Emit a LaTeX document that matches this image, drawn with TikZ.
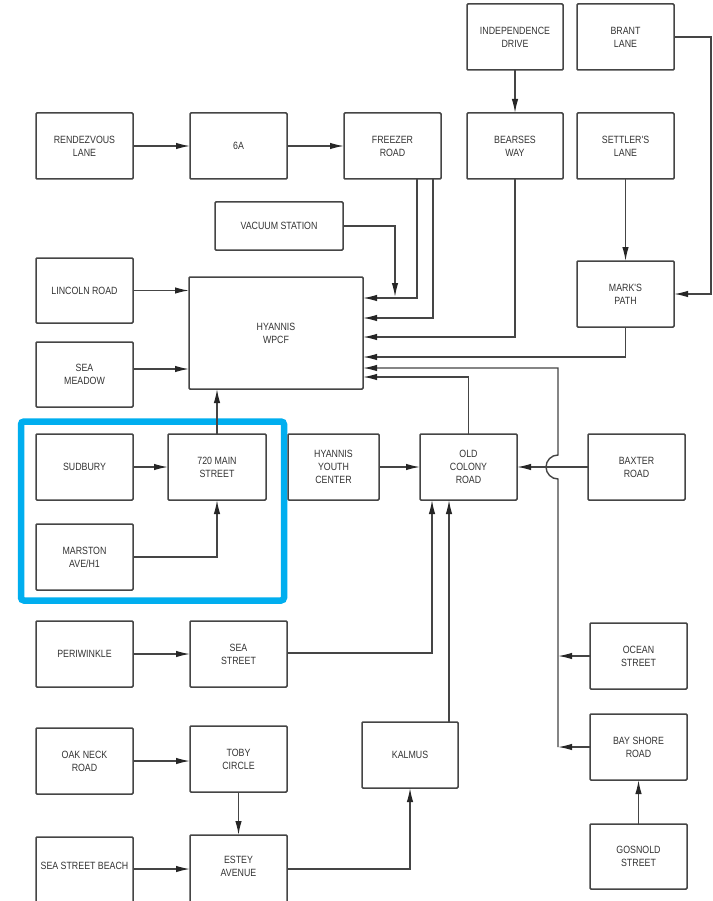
\documentclass[tikz,border=0pt]{standalone}
\usepackage{fontspec}
\newfontfamily\labfont[FakeStretch=0.84]{Liberation Sans}
\usetikzlibrary{arrows.meta}
\definecolor{ink}{HTML}{333333}
\definecolor{edge}{HTML}{454545}
\definecolor{hl}{HTML}{00AEEF}
\newcommand\bx[6]{\node[box,minimum width={(#4-#2)*1pt},minimum height={(#5-#3)*1pt}] (#1) at ({(#2+#4)/2},{-(#3+#5)/2}) {#6};}
\begin{document}
\begin{tikzpicture}[x=1pt,y=1pt,
  box/.style={draw=edge, line width=1.5pt, rounded corners=1pt, inner sep=0pt, outer sep=0pt,
    align=center, text=ink, font=\labfont\fontsize{10.5}{13}\selectfont},
  arr/.style={draw=edge, line width=1.4pt, -{Latex[length=14pt,width=6.5pt,color=black!85]}},
  ln/.style={draw=edge, line width=1.4pt}]
\useasboundingbox (0,0) rectangle (712,-901);
\clip (0,0) rectangle (712,-901);
\fill[white] (0,0) rectangle (712,-901);

% highlight frame
\draw[hl, line width=6.5pt, rounded corners=3pt] (21,-421.5) rectangle (284,-600.5);

% boxes
\bx{ind}{467}{4}{563}{70}{INDEPENDENCE\\DRIVE}
\bx{brant}{577}{4}{674}{70}{BRANT\\LANE}
\bx{rend}{36}{113}{133}{179}{RENDEZVOUS\\LANE}
\bx{sixa}{190}{113}{287}{179}{6A}
\bx{freezer}{344}{113}{441}{179}{FREEZER\\ROAD}
\bx{bearses}{467}{113}{563}{179}{BEARSES\\WAY}
\bx{settler}{577}{113}{674}{179}{SETTLER'S\\LANE}
\bx{vac}{215}{202}{343}{250}{VACUUM STATION}
\bx{lincoln}{36}{258}{133}{323}{LINCOLN ROAD}
\bx{wpcf}{189}{277}{363}{389}{HYANNIS\\WPCF}
\bx{marks}{577}{261}{674}{327}{MARK'S\\PATH}
\bx{seam}{36}{342}{133}{407}{SEA\\MEADOW}
\bx{sudbury}{36}{434}{133}{500}{SUDBURY}
\bx{main}{168}{434}{266}{500}{720 MAIN\\STREET}
\bx{marston}{36}{524}{133}{590}{MARSTON\\AVE/H1}
\bx{hyc}{288}{434}{379}{500}{HYANNIS\\YOUTH\\CENTER}
\bx{oldcol}{420}{434}{517}{500}{OLD\\COLONY\\ROAD}
\bx{baxter}{588}{434}{685}{500}{BAXTER\\ROAD}
\bx{peri}{36}{621}{133}{687}{PERIWINKLE}
\bx{seast}{190}{621}{287}{687}{SEA\\STREET}
\bx{ocean}{590}{623}{687}{689}{OCEAN\\STREET}
\bx{oak}{36}{728}{133}{794}{OAK NECK\\ROAD}
\bx{toby}{190}{726}{287}{792}{TOBY\\CIRCLE}
\bx{kalmus}{362}{722}{458}{788}{KALMUS}
\bx{bay}{590}{714}{687}{780}{BAY SHORE\\ROAD}
\bx{gosnold}{590}{824}{687}{889}{GOSNOLD\\STREET}
\node[box,minimum width=97pt,minimum height=68pt] (ssb) at (84.5,-871) {};
\node[box,minimum width=97pt,minimum height=70pt] (estey) at (238.5,-870) {};
\node[text=ink, font=\labfont\fontsize{10.5}{13}\selectfont] (ssbt) at (84.5,-866) {SEA STREET BEACH};
\node[text=ink, align=center, font=\labfont\fontsize{10.5}{13}\selectfont] (esteyt) at (238.5,-866) {ESTEY\\AVENUE};

% top connectors
\draw[arr] (rend) -- (sixa);
\draw[arr] (sixa) -- (freezer);
\draw[arr] (ind) -- (bearses);
\coordinate (bc) at (711,-294);
\draw[arr] (brant.east) -| (bc) -- (marks.east |- bc);
\draw[arr] (settler) -- (marks);
\draw[arr] (vac.east) -| (395,-297);
\draw[arr] (freezer.south -| 417,0) |- (wpcf.east |- 0,-298);
\draw[arr] (freezer.south -| 433,0) |- (wpcf.east |- 0,-318);
\draw[arr] (bearses.south) |- (wpcf.east |- 0,-337);
\draw[arr] (marks.south) |- (wpcf.east |- 0,-357);
\coordinate (busb) at (558,-747);
\coordinate (busj) at (558,-479);
\draw[arr] (busb) -- (busj) arc[start angle=270, end angle=90, radius=12pt] -- (558,-368) -- (wpcf.east |- 0,-368);
\draw[arr] (bay.west) -- (busb);
\draw[arr] (ocean.west) -- (ocean.west -| busb);
\draw[arr] (oldcol.north) |- (wpcf.east |- 0,-377);
\draw[arr] (lincoln) -- (wpcf.west |- lincoln);
\draw[arr] (seam.east |- 0,-369) -- (wpcf.west |- 0,-369);

% middle
\draw[arr] (main.north) -- (wpcf.south -| main.north);
\draw[arr] (sudbury) -- (main);
\draw[arr] (marston.east) -| (main.south);
\draw[arr] (hyc) -- (oldcol);
\draw[arr] (baxter) -- (oldcol);

% bottom
\draw[arr] (seast.east |- 0,-653) -| (oldcol.south -| 432,0);
\draw[arr] (kalmus.north -| 449,0) -- (oldcol.south -| 449,0);
\draw[arr] (peri) -- (seast);
\draw[arr] (oak.east |- 0,-761) -- (toby.west |- 0,-761);
\draw[arr] (toby) -- (estey.north);
\draw[arr] (ssb.east |- 0,-869) -- (estey.west |- 0,-869);
\draw[arr] (estey.east |- 0,-869) -| (kalmus.south);
\draw[arr] (gosnold) -- (bay);
\end{tikzpicture}
\end{document}
